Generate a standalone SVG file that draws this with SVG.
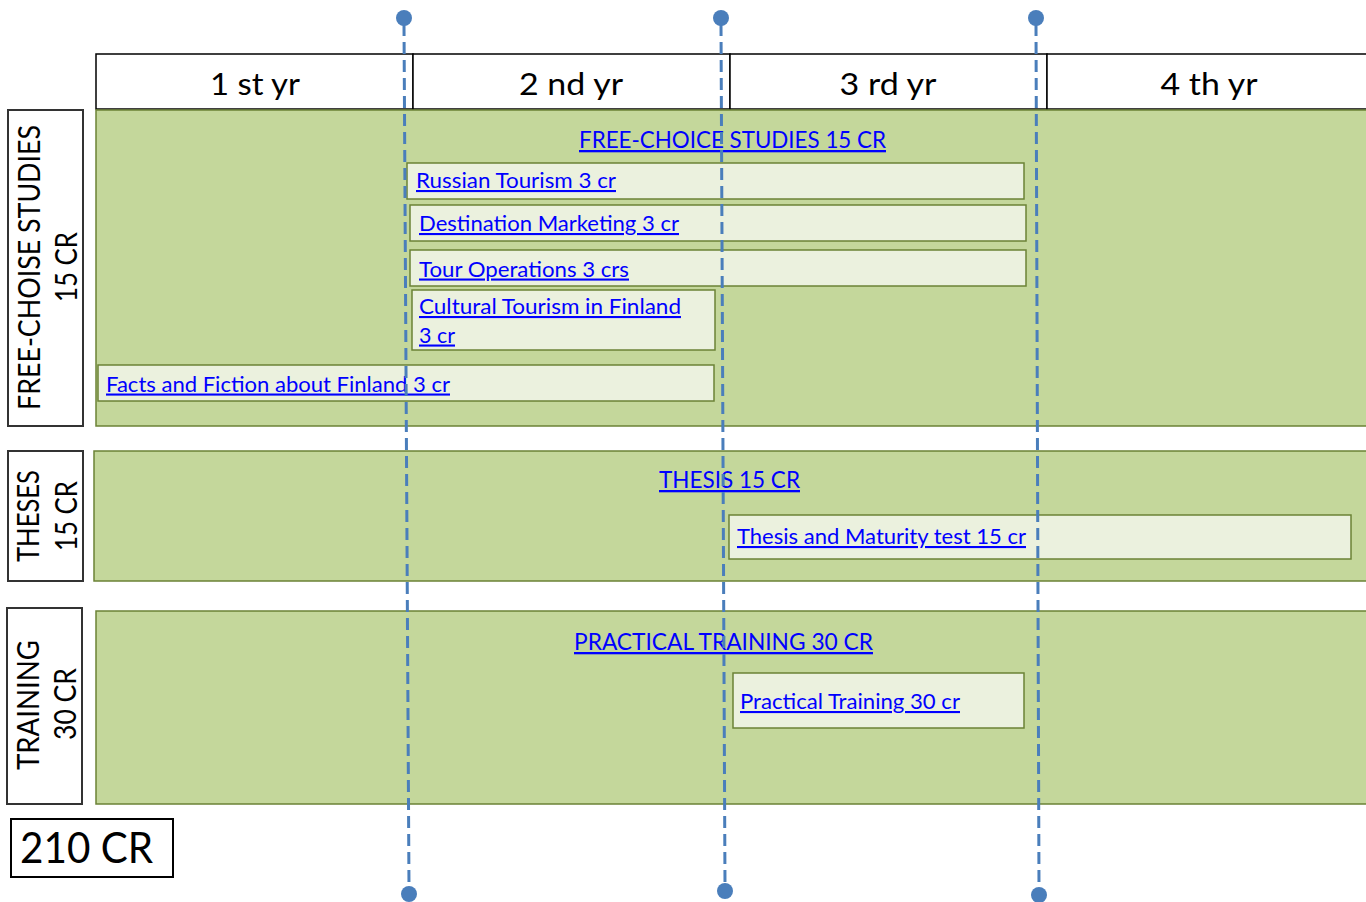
<svg xmlns="http://www.w3.org/2000/svg" width="1366" height="902" viewBox="0 0 1366 902">
<style>
text{font-family:Lato,"Open Sans","Liberation Sans",sans-serif}
.hdr{fill:#fff;stroke:#000;stroke-width:1.5}
.hdrt{font-size:30px;fill:#000;text-anchor:middle}
.lbl{fill:#fff;stroke:#333;stroke-width:2}
.lblt{font-size:30px;fill:#000;text-anchor:middle}
.panel{fill:#C4D79B;stroke:#6B8236;stroke-width:1.5}
.box{fill:#EBF1DE;stroke:#6B8236;stroke-width:1.5}
.link{fill:#0000FF;text-decoration:underline}
.title{font-size:23px}
.course{font-size:21px}
.dash{stroke:#4A7EBB;stroke-width:3;stroke-dasharray:12 6;fill:none}
.dot{fill:#4A7EBB}
</style>
<rect width="1366" height="902" fill="#fff"/>

<g id="header">
<rect class="hdr" x="96" y="54" width="317" height="55"/>
<rect class="hdr" x="413" y="54" width="317" height="55"/>
<rect class="hdr" x="730" y="54" width="317" height="55"/>
<rect class="hdr" x="1047" y="54" width="330" height="55"/>
<text class="hdrt" x="255" y="95" textLength="90" lengthAdjust="spacingAndGlyphs">1 st yr</text>
<text class="hdrt" x="571" y="95" textLength="104" lengthAdjust="spacingAndGlyphs">2 nd yr</text>
<text class="hdrt" x="888" y="95" textLength="97" lengthAdjust="spacingAndGlyphs">3 rd yr</text>
<text class="hdrt" x="1209" y="95" textLength="97" lengthAdjust="spacingAndGlyphs">4 th yr</text>
</g>

<g id="free-choice">
<rect class="lbl" x="8" y="110" width="75" height="316"/>
<text class="lblt" transform="translate(40,267.5) rotate(-90)" textLength="285" lengthAdjust="spacingAndGlyphs">FREE-CHOISE STUDIES</text>
<text class="lblt" transform="translate(77,267) rotate(-90)" textLength="70" lengthAdjust="spacingAndGlyphs">15 CR</text>
<rect class="panel" x="96" y="110" width="1280" height="316"/>
<text class="link title" x="579" y="148" textLength="307" lengthAdjust="spacingAndGlyphs">FREE-CHOICE STUDIES 15 CR</text>
</g>

<g id="russian-tourism">
<rect class="box" x="407" y="163" width="617" height="36"/>
<text class="link course" x="416" y="188" textLength="200" lengthAdjust="spacingAndGlyphs">Russian Tourism 3 cr</text>
</g>
<g id="destination-marketing">
<rect class="box" x="410" y="205" width="616" height="36"/>
<text class="link course" x="419" y="231" textLength="260" lengthAdjust="spacingAndGlyphs">Destination Marketing 3 cr</text>
</g>
<g id="tour-operations">
<rect class="box" x="410" y="250" width="616" height="36"/>
<text class="link course" x="419" y="276.5" textLength="210" lengthAdjust="spacingAndGlyphs">Tour Operations 3 crs</text>
</g>
<g id="cultural-tourism">
<rect class="box" x="412" y="290" width="303" height="60"/>
<text class="link course" x="419" y="314" textLength="262" lengthAdjust="spacingAndGlyphs">Cultural Tourism in Finland</text>
<text class="link course" x="419" y="342.5" textLength="36" lengthAdjust="spacingAndGlyphs">3 cr</text>
</g>
<g id="facts-fiction">
<rect class="box" x="98" y="365" width="616" height="36"/>
<text class="link course" x="106" y="391.5" textLength="344" lengthAdjust="spacingAndGlyphs">Facts and Fiction about Finland 3 cr</text>
</g>

<g id="theses">
<rect class="lbl" x="8" y="451" width="75" height="130"/>
<text class="lblt" transform="translate(39,516) rotate(-90)" textLength="92" lengthAdjust="spacingAndGlyphs">THESES</text>
<text class="lblt" transform="translate(77,516) rotate(-90)" textLength="70" lengthAdjust="spacingAndGlyphs">15 CR</text>
<rect class="panel" x="94" y="451" width="1282" height="130"/>
<text class="link title" x="659" y="488" textLength="141" lengthAdjust="spacingAndGlyphs">THESIS 15 CR</text>
</g>
<g id="thesis-maturity">
<rect class="box" x="729" y="515" width="622" height="44"/>
<text class="link course" x="737" y="544" textLength="289" lengthAdjust="spacingAndGlyphs">Thesis and Maturity test 15 cr</text>
</g>

<g id="training">
<rect class="lbl" x="7" y="608" width="75" height="196"/>
<text class="lblt" transform="translate(39,705) rotate(-90)" textLength="130" lengthAdjust="spacingAndGlyphs">TRAINING</text>
<text class="lblt" transform="translate(76,704) rotate(-90)" textLength="72" lengthAdjust="spacingAndGlyphs">30 CR</text>
<rect class="panel" x="96" y="611" width="1280" height="193"/>
<text class="link title" x="574" y="650" textLength="299" lengthAdjust="spacingAndGlyphs">PRACTICAL TRAINING 30 CR</text>
</g>
<g id="practical-training">
<rect class="box" x="733" y="673" width="291" height="55"/>
<text class="link course" x="740" y="709" textLength="220" lengthAdjust="spacingAndGlyphs">Practical Training 30 cr</text>
</g>

<g id="total">
<rect x="11" y="819" width="162" height="58" fill="#fff" stroke="#000" stroke-width="2"/>
<text x="20" y="863" font-size="43" fill="#000" textLength="133" lengthAdjust="spacingAndGlyphs">210 CR</text>
</g>

<g id="connectors">
<line class="dash" x1="404" y1="24" x2="409" y2="888"/>
<circle class="dot" cx="404" cy="18" r="8"/>
<circle class="dot" cx="409" cy="894" r="8"/>
<line class="dash" x1="721" y1="24" x2="725" y2="885"/>
<circle class="dot" cx="721" cy="18" r="8"/>
<circle class="dot" cx="725" cy="891" r="8"/>
<line class="dash" x1="1036" y1="24" x2="1039" y2="889"/>
<circle class="dot" cx="1036" cy="18" r="8"/>
<circle class="dot" cx="1039" cy="895" r="8"/>
</g>
</svg>
